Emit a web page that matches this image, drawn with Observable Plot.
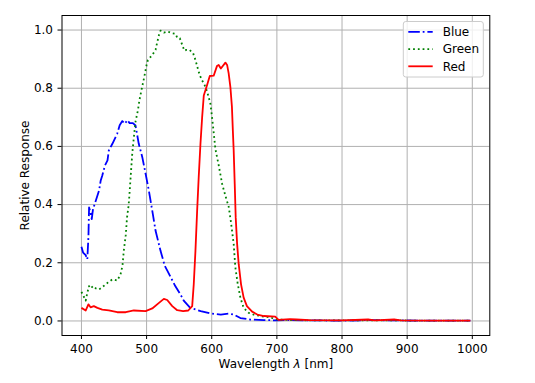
<!DOCTYPE html>
<html><head><meta charset="utf-8">
<script src="https://cdn.jsdelivr.net/npm/d3@7"></script>
<script src="https://cdn.jsdelivr.net/npm/@observablehq/plot@0.6"></script>
<style>
body{margin:0;background:#fff;}
#wrap{width:535px;height:383px;}
</style></head><body><div id="wrap"></div>
<script>
// ---- data ----
const seriesNames = ["Blue", "Green", "Red"];
const seriesColors = ["#0000ff", "#008000", "#ff0000"];
const xTicks = [400, 500, 600, 700, 800, 900, 1000];
const yTicks = [0, 0.2, 0.4, 0.6, 0.8, 1.0];
const xLabel = "Wavelength λ [nm]";
const yLabel = "Relative Response";

const blueWl = [400,402.5,406.5,409,410.7,411.7,414,415.8,417.8,422,427,429.6,432,436,440,442,447.5,455,458.7,462.7,466.8,470.4,474,479,483,488,493.4,498.5,503.5,508.7,513.8,521.4,528,532,544,552,557,567,583,598,614,626,634,644,659,680,700,720,740,760,800,840,880,920,960,997];
const blueVal = [0.255,0.235,0.226,0.212,0.287,0.39,0.373,0.35,0.385,0.413,0.448,0.483,0.50,0.534,0.552,0.586,0.609,0.644,0.673,0.687,0.678,0.69,0.68,0.68,0.672,0.609,0.563,0.506,0.448,0.379,0.31,0.241,0.189,0.172,0.12,0.091,0.07,0.045,0.034,0.026,0.022,0.025,0.022,0.01,0.005,0.003,0.002,0.003,0.002,0.002,0.001,0.003,0.002,0.001,0.001,0.001];

const greenWl = [400,406.6,409,411.6,414,418,422,427,432,440,447.5,455,460,463,465,468,470,472,473,475.5,478,480.5,483,486.7,489,493,496,500,502,508.7,513.8,516,519,521.4,526.5,532.6,539,544.4,547,551,554.7,558,561,566,571.5,575,578.6,581.6,585,589,593,598,601,605.7,610.7,616,621,626,629.5,633.7,636.3,640,644,649,656.7,664,677,690,700,720,760,800,840,880,920,960,997];
const greenVal = [0.10,0.07,0.097,0.12,0.112,0.12,0.112,0.108,0.116,0.131,0.143,0.139,0.16,0.19,0.241,0.295,0.356,0.39,0.413,0.494,0.575,0.632,0.685,0.724,0.759,0.803,0.834,0.88,0.897,0.914,0.932,0.955,0.983,0.998,0.991,0.995,0.989,0.987,0.974,0.972,0.949,0.929,0.932,0.932,0.92,0.897,0.868,0.845,0.828,0.811,0.788,0.747,0.69,0.59,0.535,0.471,0.43,0.393,0.34,0.265,0.183,0.126,0.08,0.045,0.028,0.022,0.016,0.012,0.005,0.003,0.002,0.002,0.002,0.002,0.001,0.001,0.001];

const redWl = [400,406.6,410.7,414,419,424.5,432,442,455,468,480.5,498.5,508.7,519,526.5,531.7,539.4,547,556,564,570,572.4,575,577.6,580,582.7,585.3,587.8,593,597,603,608,610.7,614,621,623.6,626,628.6,631,632.5,633.7,635.3,636.8,639,641.4,645,649,654,662,670,680,697.5,702.6,720,730,750,800,840,850,880,890,940,997];
const redVal = [0.045,0.036,0.057,0.047,0.051,0.045,0.039,0.036,0.030,0.030,0.036,0.034,0.043,0.062,0.076,0.072,0.051,0.037,0.034,0.036,0.051,0.126,0.241,0.379,0.494,0.609,0.701,0.775,0.812,0.842,0.843,0.876,0.88,0.868,0.888,0.88,0.851,0.805,0.736,0.65,0.586,0.471,0.356,0.264,0.195,0.126,0.08,0.051,0.032,0.022,0.017,0.015,0.004,0.006,0.005,0.003,0.002,0.005,0.002,0.005,0.002,0.001,0.001];

const seriesWl = [blueWl, greenWl, redWl];
const seriesVal = [blueVal, greenVal, redVal];
// ---- styles ----
const dashes = ["11.5,2.9,1.8,2.9", "1.8,2.97", null];

const rows = [];
seriesNames.forEach((n, i) => seriesWl[i].forEach((w, j) => rows.push({series: n, wl: w, v: seriesVal[i][j]})));

const lineMarks = seriesNames.map((n, i) => Plot.line(rows.filter(d => d.series === n), {
  x: "wl", y: "v", stroke: seriesColors[i], strokeWidth: 1.8,
  strokeDasharray: dashes[i] || undefined, strokeLinecap: "butt", strokeLinejoin: "round"
}));

const chart = Plot.plot({
  width: 535, height: 383,
  marginLeft: 61.5, marginRight: 45.7, marginTop: 15, marginBottom: 48,
  style: {fontFamily: '"DejaVu Sans", sans-serif', fontSize: "12px", color: "#000", background: "#fff"},
  x: {domain: [370.15, 1026.85]},
  y: {domain: [-0.05, 1.05]},
  marks: [
    Plot.gridX(xTicks, {stroke: "#b0b0b0", strokeOpacity: 1, strokeWidth: 1}),
    Plot.gridY(yTicks, {stroke: "#b0b0b0", strokeOpacity: 1, strokeWidth: 1}),
    ...lineMarks,
    Plot.frame({stroke: "#000", strokeWidth: 1}),
    Plot.axisX(xTicks, {tickSize: 4, tickPadding: 5, label: null, tickFormat: d => String(d), fill: "#000"}),
    Plot.axisY(yTicks, {tickSize: 4, tickPadding: 5, label: null, tickFormat: d3.format(".1f"), fill: "#000"}),
    Plot.text([xLabel], {frameAnchor: "bottom", dy: 28.5, text: d => d, lineAnchor: "middle", textAnchor: "middle", fill: "#000", fontSize: 12}),
    Plot.text([yLabel], {frameAnchor: "left", dx: -36.6, text: d => d, rotate: -90, lineAnchor: "middle", textAnchor: "middle", fill: "#000", fontSize: 12})
  ]
});
document.getElementById("wrap").appendChild(chart);

// italic lambda in x label
const svg = d3.select(chart);
svg.selectAll("text").each(function() {
  if (this.textContent === xLabel) {
    const parts = xLabel.split("λ");
    const t = d3.select(this);
    t.text(null);
    t.append("tspan").text(parts[0]);
    t.append("tspan").attr("font-style", "italic").text("λ");
    t.append("tspan").text(parts[1]);
  }
});

// legend (upper right, inside axes)
const lg = svg.append("g").attr("font-family", '"DejaVu Sans", sans-serif').attr("font-size", 12).attr("text-anchor", "start");
lg.append("rect").attr("x", 403.3).attr("y", 21.5).attr("width", 80).attr("height", 55.5).attr("rx", 2.5)
  .attr("fill", "#fff").attr("fill-opacity", 0.8).attr("stroke", "#cccccc").attr("stroke-width", 1);
seriesNames.forEach((n, i) => {
  const cy = 31.9 + i * 17.2;
  lg.append("line").attr("x1", 408.3).attr("x2", 432.7).attr("y1", cy).attr("y2", cy)
    .attr("stroke", seriesColors[i]).attr("stroke-width", 1.8)
    .attr("stroke-dasharray", dashes[i]).attr("stroke-linecap", "butt");
  lg.append("text").attr("x", 442.7).attr("y", cy + 4.3).attr("fill", "#000").attr("text-anchor", "start").text(n);
});
</script>
</body></html>
